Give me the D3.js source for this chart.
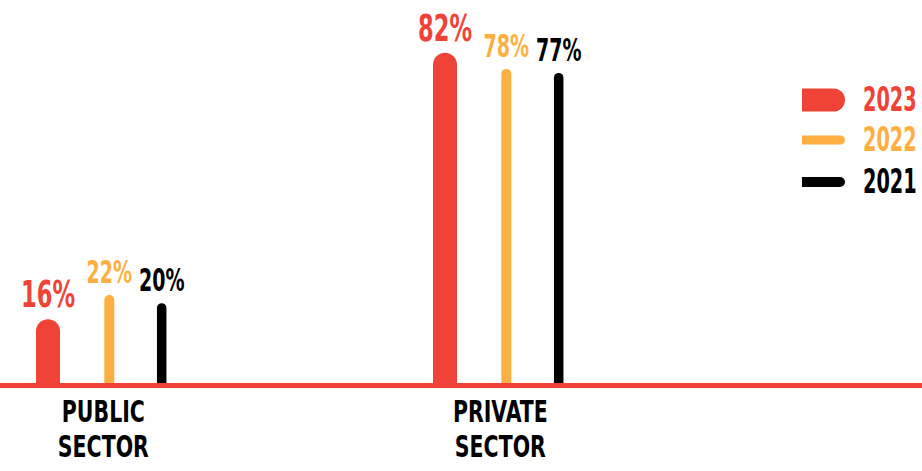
<!DOCTYPE html>
<html><head><meta charset="utf-8">
<script src="https://cdn.jsdelivr.net/npm/d3@7"></script>
<style>
html,body{margin:0;padding:0;background:#fff;}
text{font-family:"DejaVu Sans Condensed","DejaVu Sans",sans-serif;font-weight:bold;}
</style></head>
<body>
<svg id="c" width="922" height="471"></svg>
<script>
const categories = ["PUBLIC SECTOR", "PRIVATE SECTOR"];
const years = ["2023", "2022", "2021"];
const values2023 = [16, 82];
const values2022 = [22, 78];
const values2021 = [20, 77];
const seriesValues = [values2023, values2022, values2021];

const colors = {"2023": "#F04337", "2022": "#FDB041", "2021": "#000000"};
const barWidth = {"2023": 24, "2022": 10, "2021": 9.5};
const labelSize = {"2023": 38, "2022": 32, "2021": 32};

const svg = d3.select("#c");
const W = 922, H = 471;
const baseY = 384;

const x0 = d3.scalePoint().domain(categories).range([48, 445]);
const x1 = d3.scaleOrdinal().domain(years).range([0, 61.3, 113.7]);
const y = d3.scaleLinear().domain([0, 100]).range([baseY, -20]);

function barPath(cx, top, w, bottom) {
  const r = w / 2;
  return `M${cx - r},${bottom} L${cx - r},${top + r} A${r},${r} 0 0 1 ${cx + r},${top + r} L${cx + r},${bottom} Z`;
}

const data = [];
categories.forEach((c, i) => {
  years.forEach((yr, j) => {
    data.push({cat: c, year: yr, value: seriesValues[j][i]});
  });
});

const sxVal = 0.66, sxCat = 0.76, sxLeg = 0.63;
svg.selectAll("path.bar").data(data).enter().append("path")
  .attr("class", "bar")
  .attr("fill", d => colors[d.year])
  .attr("d", d => barPath(x0(d.cat) + x1(d.year), y(d.value), barWidth[d.year], baseY + 2));

svg.selectAll("text.val").data(data).enter().append("text")
  .attr("class", "val")
  .attr("text-anchor", "middle")
  .attr("fill", d => colors[d.year])
  .attr("font-size", d => labelSize[d.year])
  .attr("transform", d => `translate(${x0(d.cat) + x1(d.year)},${y(d.value) - 12}) scale(${sxVal},1)`)
  .text(d => d.value + "%");

// baseline
svg.append("rect").attr("x", 0).attr("y", 383).attr("width", W).attr("height", 5).attr("fill", colors["2023"]);

// category labels
categories.forEach(c => {
  const cx = x0(c) + 113.7 / 2 - 1.5;
  const lines = c.split(" ");
  lines.forEach((ln, k) => {
    svg.append("text")
      .attr("text-anchor", "middle")
      .attr("fill", "#000")
      .attr("font-size", 30)
      .attr("transform", `translate(${cx},${422 + k * 35}) scale(${sxCat},1)`)
      .text(ln);
  });
});

// legend
const legY = {"2023": 100, "2022": 140, "2021": 182};
const legH = {"2023": 23, "2022": 9, "2021": 10};
years.forEach(yr => {
  const h = legH[yr], r = h / 2, cy = legY[yr];
  const xl = 802, xr = 845;
  svg.append("path")
    .attr("fill", colors[yr])
    .attr("d", `M${xl},${cy - r} L${xr - r},${cy - r} A${r},${r} 0 0 1 ${xr - r},${cy + r} L${xl},${cy + r} Z`);
  svg.append("text")
    .attr("fill", colors[yr])
    .attr("font-size", 34)
    .attr("transform", `translate(863,${cy + 11}) scale(${sxLeg},1)`)
    .text(yr);
});
</script>
</body></html>
